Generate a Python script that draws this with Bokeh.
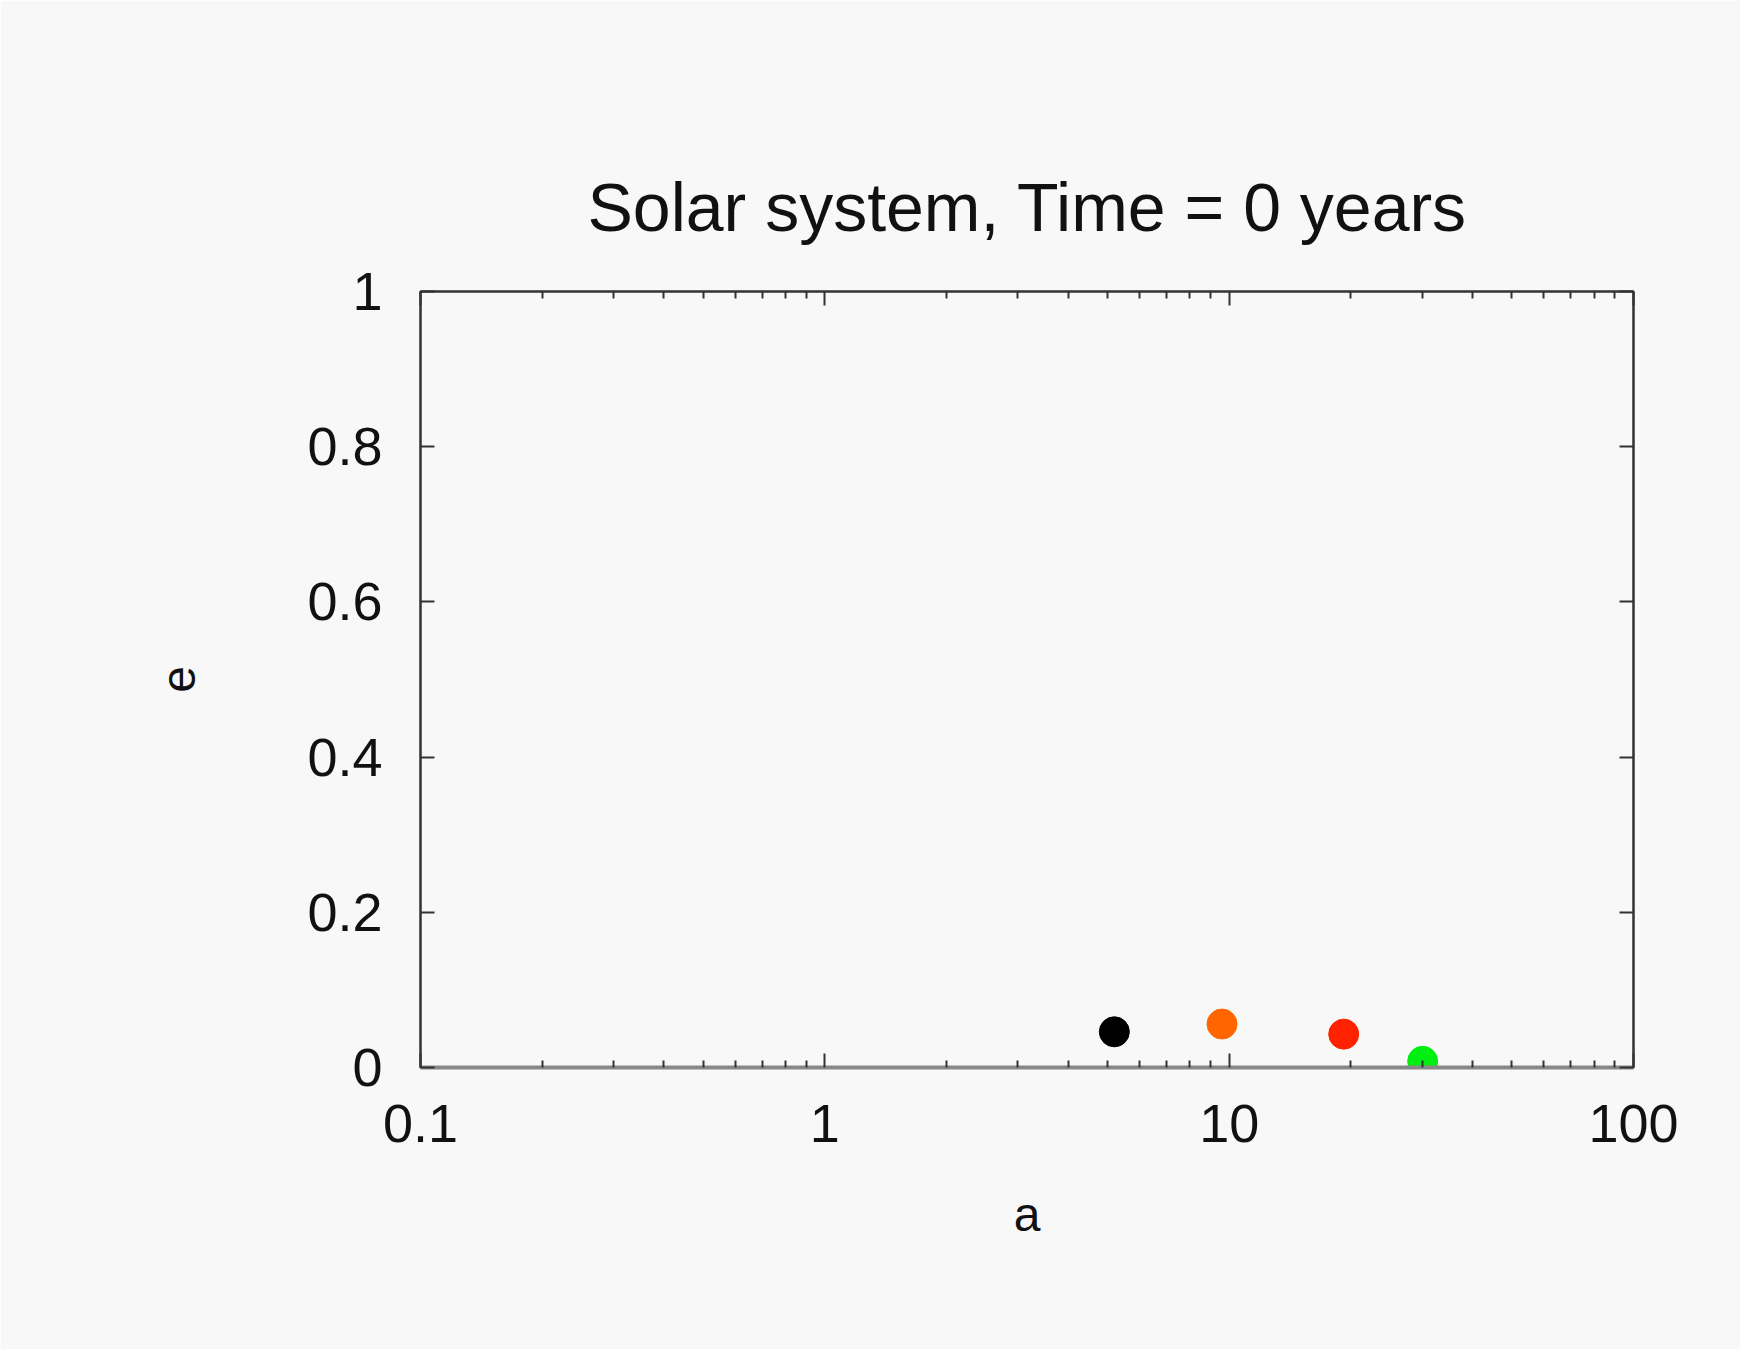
from bokeh.plotting import figure
from bokeh.models import LogAxis, LinearAxis, FixedTicker, Range1d, ColumnDataSource
from bokeh.embed import file_html
from bokeh.resources import INLINE

# ---- data ----
planets = ["Jupiter", "Saturn", "Uranus", "Neptune"]
a_values = [5.2, 9.6, 19.2, 30.1]
e_values = [0.046, 0.056, 0.043, 0.008]
colors = ["#000000", "#ff6600", "#ff2200", "#00ee11"]

x_major_ticks = [0.1, 1, 10, 100]
x_tick_labels = ["0.1", "1", "10", "100"]
x_minor_ticks = [m * d for d in [0.1, 1, 10] for m in range(2, 10)]
y_major_ticks = [0, 0.2, 0.4, 0.6, 0.8, 1]
y_tick_labels = ["0", "0.2", "0.4", "0.6", "0.8", "1"]

title_text = "Solar system, Time  = 0 years"
FONT = "Liberation Sans"
BG = "#f8f8f8"
FRAME = "#333333"

source = ColumnDataSource(dict(a=a_values, e=e_values, color=colors, name=planets))

p = figure(width=1740, height=1349, x_axis_type="log",
           x_range=Range1d(0.1, 100), y_range=Range1d(0, 1),
           output_backend="svg", toolbar_location=None,
           title=title_text,
           min_border_left=420, min_border_right=107,
           min_border_top=291, min_border_bottom=282)

p.background_fill_color = BG
p.border_fill_color = BG
p.outline_line_color = FRAME
p.outline_line_width = 2
p.grid.visible = False

p.title.text_font = FONT
p.title.text_font_size = "68px"
p.title.text_font_style = "normal"
p.title.text_color = "#111111"
p.title.align = "left"
p.title.offset = 167
p.title.standoff = 94

xt = FixedTicker(ticks=x_major_ticks, minor_ticks=x_minor_ticks)
yt = FixedTicker(ticks=y_major_ticks, minor_ticks=[])


def style(ax, labels=True):
    ax.major_tick_in = 14
    ax.major_tick_out = 0
    ax.minor_tick_in = 7
    ax.minor_tick_out = 0
    ax.major_tick_line_color = FRAME
    ax.minor_tick_line_color = FRAME
    ax.major_tick_line_width = 2
    ax.minor_tick_line_width = 2
    ax.axis_line_color = FRAME
    ax.axis_line_width = 2
    ax.major_label_text_font = FONT
    ax.major_label_text_color = "#111111"
    ax.axis_label_text_font = FONT
    ax.axis_label_text_font_style = "normal"
    ax.axis_label_text_color = "#111111"
    if not labels:
        ax.major_label_text_font_size = "0px"
        ax.major_label_text_alpha = 0


xa = p.xaxis[0]
xa.ticker = xt
xa.major_label_overrides = {t: l for t, l in zip(x_major_ticks, x_tick_labels)}
style(xa)
xa.major_label_text_font_size = "54px"
xa.major_label_standoff = 37
xa.axis_label = "a"
xa.axis_label_text_font_size = "48px"
xa.axis_label_standoff = 43
xa.axis_line_color = "#888888"
xa.axis_line_width = 4

ya = p.yaxis[0]
ya.ticker = yt
ya.major_label_overrides = {t: l for t, l in zip(y_major_ticks, y_tick_labels)}
style(ya)
ya.major_label_text_font_size = "54px"
ya.major_label_standoff = 38
ya.axis_label = "e"
ya.axis_label_text_font_size = "48px"
ya.axis_label_standoff = 109

top = LogAxis(ticker=xt)
style(top, labels=False)
p.add_layout(top, "above")

right = LinearAxis(ticker=yt)
style(right, labels=False)
p.add_layout(right, "right")

p.scatter("a", "e", source=source, size=30, color="color", line_color="color")

open("out.html", "w").write(file_html(p, INLINE))
